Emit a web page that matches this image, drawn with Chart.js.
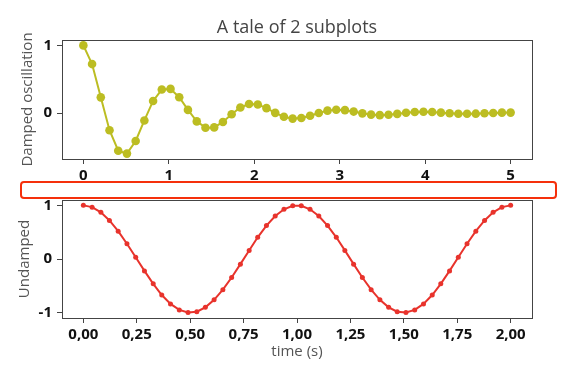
<!DOCTYPE html>
<html>
<head>
<meta charset="utf-8">
<script src="https://cdn.jsdelivr.net/npm/chart.js@4.4.1/dist/chart.umd.min.js"></script>
<style>
  body { margin: 0; background: #fff; }
  #wrap { position: relative; width: 568px; height: 373px; overflow: hidden; }
  #c1 { position: absolute; left: 0; top: 0; }
  #c2 { position: absolute; left: 0; top: 186px; }
  /* the red frame laid over the gap between the two plots */
  #box { position: absolute; left: 20px; top: 181px; width: 537px; height: 18px; box-sizing: border-box;
         border: 2.5px solid #f5300c; border-radius: 4px; background: #fff; }
</style>
</head>
<body>
<div id="wrap">
  <canvas id="c1" width="568" height="186"></canvas>
  <canvas id="c2" width="568" height="187"></canvas>
  <div id="box"></div>
</div>
<script>
// data
var chartTitle = 'A tale of 2 subplots';

var dampedTime = [0, 0.102, 0.204, 0.306, 0.408, 0.510, 0.612, 0.714, 0.816, 0.918,
  1.020, 1.122, 1.224, 1.327, 1.429, 1.531, 1.633, 1.735, 1.837, 1.939,
  2.041, 2.143, 2.245, 2.347, 2.449, 2.551, 2.653, 2.755, 2.857, 2.959,
  3.061, 3.163, 3.265, 3.367, 3.469, 3.571, 3.673, 3.776, 3.878, 3.980,
  4.082, 4.184, 4.286, 4.388, 4.490, 4.592, 4.694, 4.796, 4.898, 5.000];
var dampedValues = [1, 0.724, 0.232, -0.254, -0.557, -0.599, -0.413, -0.109, 0.179, 0.348,
  0.357, 0.234, 0.047, -0.123, -0.216, -0.212, -0.131, -0.017, 0.083, 0.133,
  0.126, 0.073, 0.003, -0.055, -0.082, -0.074, -0.040, 0.002, 0.036, 0.050,
  0.043, 0.022, -0.004, -0.023, -0.031, -0.025, -0.012, 0.004, 0.015, 0.019,
  0.015, 0.006, -0.003, -0.010, -0.011, -0.009, -0.003, 0.002, 0.006, 0.007];

var undampedTime = [0, 0.041, 0.082, 0.122, 0.163, 0.204, 0.245, 0.286, 0.327, 0.367,
  0.408, 0.449, 0.490, 0.531, 0.571, 0.612, 0.653, 0.694, 0.735, 0.776,
  0.816, 0.857, 0.898, 0.939, 0.980, 1.020, 1.061, 1.102, 1.143, 1.184,
  1.224, 1.265, 1.306, 1.347, 1.388, 1.429, 1.469, 1.510, 1.551, 1.592,
  1.633, 1.673, 1.714, 1.755, 1.796, 1.837, 1.878, 1.918, 1.959, 2.000];
var undampedValues = [1, 0.967, 0.871, 0.718, 0.518, 0.285, 0.032, -0.222, -0.463, -0.672,
  -0.838, -0.949, -0.998, -0.982, -0.901, -0.762, -0.572, -0.345, -0.096, 0.160,
  0.405, 0.624, 0.801, 0.927, 0.992, 0.992, 0.927, 0.801, 0.624, 0.405,
  0.160, -0.096, -0.345, -0.572, -0.762, -0.901, -0.982, -0.998, -0.949, -0.838,
  -0.672, -0.463, -0.222, 0.032, 0.285, 0.518, 0.718, 0.871, 0.967, 1];

var topXTicks = [0, 1, 2, 3, 4, 5];
var topXLabels = ['0', '1', '2', '3', '4', '5'];
var topYTicks = [0, 1];
var topYLabels = ['0', '1'];
var bottomXTicks = [0, 0.25, 0.5, 0.75, 1, 1.25, 1.5, 1.75, 2];
var bottomXLabels = ['0,00', '0,25', '0,50', '0,75', '1,00', '1,25', '1,50', '1,75', '2,00'];
var bottomYTicks = [-1, 0, 1];
var bottomYLabels = ['-1', '0', '1'];

var tickFont = { family: 'Open Sans', size: 15, weight: 'bold' };
var labelFont = { family: 'Open Sans', size: 15 };

function toPoints(xs, ys) {
  return xs.map(function(x, i) { return { x: x, y: ys[i] }; });
}

// box around each plot area, like matplotlib spines
var framePlugin = {
  id: 'frame',
  afterDatasetsDraw: function(chart) {
    var a = chart.chartArea, ctx = chart.ctx;
    ctx.save();
    ctx.strokeStyle = '#444';
    ctx.lineWidth = 1;
    ctx.strokeRect(Math.round(a.left) + 0.5, Math.round(a.top) + 0.5,
      Math.round(a.right - a.left), Math.round(a.bottom - a.top));
    ctx.restore();
  }
};

var titlePlugin = {
  id: 'topTitle',
  afterDraw: function(chart) {
    var a = chart.chartArea, ctx = chart.ctx;
    ctx.save();
    ctx.font = '18px "Open Sans"';
    ctx.fillStyle = '#444';
    ctx.textAlign = 'center';
    ctx.textBaseline = 'middle';
    ctx.fillText(chartTitle, (a.left + a.right) / 2, 28);
    ctx.restore();
  }
};

function axisX(min, max, ticks, labels, height, title) {
  return {
    type: 'linear', min: min, max: max,
    afterBuildTicks: function(s) { s.ticks = ticks.map(function(v) { return { value: v }; }); },
    afterFit: function(s) { s.height = height; },
    grid: { drawOnChartArea: false, drawTicks: true, tickLength: 5, tickColor: '#444' },
    border: { display: false },
    ticks: {
      font: tickFont, color: '#111', padding: 3, maxRotation: 0, autoSkip: false,
      callback: function(v, i) { return labels[i]; }
    },
    title: title ? { display: true, text: title, font: labelFont, color: '#555', padding: { top: 0, bottom: 12 } } : { display: false }
  };
}

function axisY(min, max, ticks, labels, title, pad) {
  return {
    type: 'linear', min: min, max: max,
    afterBuildTicks: function(s) { s.ticks = ticks.map(function(v) { return { value: v }; }); },
    afterFit: function(s) { s.width = 62; },
    grid: { drawOnChartArea: false, drawTicks: true, tickLength: 5, tickColor: '#444' },
    border: { display: false },
    ticks: {
      font: tickFont, color: '#111', padding: 5, autoSkip: false,
      callback: function(v, i) { return labels[i]; }
    },
    title: { display: true, text: title, font: labelFont, color: '#555', padding: { top: pad, bottom: 0 } }
  };
}

function drawCharts() {
  new Chart(document.getElementById('c1'), {
    type: 'line',
    data: {
      datasets: [{
        data: toPoints(dampedTime, dampedValues),
        borderColor: '#bcbd22', backgroundColor: '#bcbd22',
        borderWidth: 2, pointRadius: 4.3, pointBorderWidth: 0, tension: 0
      }]
    },
    options: {
      responsive: false, animation: false, devicePixelRatio: 1,
      layout: { padding: { top: 40, right: 36, left: 0, bottom: 0 } },
      plugins: { legend: { display: false }, tooltip: { enabled: false } },
      scales: {
        x: axisX(-0.25, 5.25, topXTicks, topXLabels, 27, null),
        y: axisY(-0.679, 1.08, topYTicks, topYLabels, 'Damped oscillation', 19)
      }
    },
    plugins: [framePlugin, titlePlugin]
  });

  new Chart(document.getElementById('c2'), {
    type: 'line',
    data: {
      datasets: [{
        data: toPoints(undampedTime, undampedValues),
        borderColor: '#e8332c', backgroundColor: '#e8332c',
        borderWidth: 2, pointRadius: 2.5, pointBorderWidth: 0, tension: 0
      }]
    },
    options: {
      responsive: false, animation: false, devicePixelRatio: 1,
      layout: { padding: { top: 13, right: 36, left: 0, bottom: 0 } },
      plugins: { legend: { display: false }, tooltip: { enabled: false } },
      scales: {
        x: axisX(-0.1, 2.1, bottomXTicks, bottomXLabels, 55, 'time (s)'),
        y: axisY(-1.1, 1.1, bottomYTicks, bottomYLabels, 'Undamped', 16)
      }
    },
    plugins: [framePlugin]
  });
}

Promise.all([
  document.fonts.load('bold 15px "Open Sans"'),
  document.fonts.load('15px "Open Sans"'),
  document.fonts.load('18px "Open Sans"')
]).then(drawCharts, drawCharts);
</script>
</body>
</html>
